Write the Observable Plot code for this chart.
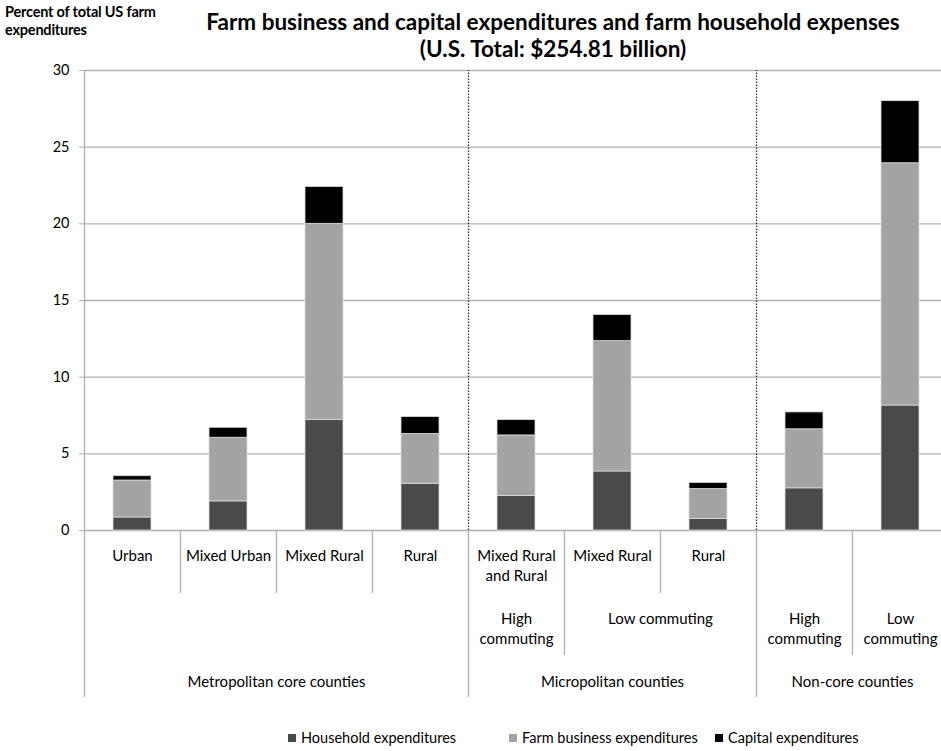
<!DOCTYPE html>
<html><head><meta charset="utf-8">
<script src="https://cdn.jsdelivr.net/npm/d3@7"></script>
<script src="https://cdn.jsdelivr.net/npm/@observablehq/plot@0.6"></script>
<style>
body{margin:0;background:#fff;font-family:Lato,"Open Sans",sans-serif;color:#000}
#wrap{position:relative;width:941px;height:751px;overflow:hidden;background:#fff}
#ylab{position:absolute;left:5px;top:3px;font-weight:bold;font-size:14.5px;line-height:18px;z-index:5;letter-spacing:-0.2px}
#title{position:absolute;left:153px;width:800px;top:8px;text-align:center;font-weight:bold;font-size:22.5px;line-height:27px;z-index:5}
#main{position:absolute;left:0;top:0}
#tiers{position:absolute;left:0;top:530px}
#legend{position:absolute;left:0;top:729px;width:941px;height:20px;font-size:14.5px;line-height:18px}
#legend div{position:absolute;top:0;white-space:nowrap}
#legend span.sw{display:inline-block;width:8px;height:8px;margin-right:5px;vertical-align:1px}
svg{display:block}
</style></head><body><div id="wrap">
<div id="main"></div>
<div id="tiers"></div>
<div id="ylab">Percent of total US farm<br>expenditures</div>
<div id="title">Farm business and capital expenditures and farm household expenses<br>(U.S. Total: $254.81 billion)</div>
<div id="legend"></div>
</div>
<script>
const categories = ["Urban","Mixed Urban","Mixed Rural","Rural","Mixed Rural\nand Rural","Mixed Rural","Rural","",""];
const household    = [0.85, 1.9, 7.2, 3.05, 2.25, 3.85, 0.75, 2.75, 8.15];
const farmBusiness = [2.41, 4.15, 12.8, 3.25, 3.95, 8.5, 1.95, 3.85, 15.8];
const capital      = [0.28, 0.65, 2.4, 1.1, 1.0, 1.7, 0.4, 1.1, 4.05];
const seriesNames  = ["Household expenditures","Farm business expenditures","Capital expenditures"];
const seriesColors = ["#4a4a4a","#a3a3a3","#000000"];
const commuting = [
  {label:"High\ncommuting", start:4, end:5},
  {label:"Low commuting", start:5, end:7},
  {label:"High\ncommuting", start:7, end:8},
  {label:"Low\ncommuting", start:8, end:9}
];
const groups = [
  {label:"Metropolitan core counties", start:0, end:4},
  {label:"Micropolitan counties", start:4, end:7},
  {label:"Non-core counties", start:7, end:9}
];
const yTicks = [0,5,10,15,20,25,30];

const seriesValues = [household, farmBusiness, capital];
const rows = [];
categories.forEach((c, i) => seriesValues.forEach((arr, k) => rows.push({i, series: seriesNames[k], value: arr[i]})));

const xScale = {type:"linear", domain:[0, categories.length], range:[84, 948]};
const font = {fontFamily:"Lato, 'Open Sans', sans-serif", fontSize:"15px", color:"#000", background:"transparent", overflow:"visible"};
const gridColor = "#b0b0b0";

const main = Plot.plot({
  width: 941, height: 531,
  marginTop: 70, marginBottom: 1, marginLeft: 84, marginRight: 0,
  style: font,
  x: {...xScale, axis: null},
  y: {domain:[0,30], range:[530,70]},
  color: {domain: seriesNames, range: seriesColors},
  marks: [
    Plot.ruleY(yTicks, {y: d => d, stroke: gridColor, strokeWidth: 1.3}),
    Plot.ruleX(groups.slice(1), {x: "start", y1: 0, y2: 30, stroke: "#333", strokeDasharray: "1.5,1.5", strokeWidth: 1.3}),
    Plot.rectY(rows, {x1: d => d.i, x2: d => d.i + 1, y: "value", fill: "series", order: seriesNames,
      insetLeft: 29, insetRight: 29, stroke: "#dcdcdc", strokeWidth: 0.8}),
    Plot.ruleX([0], {stroke: gridColor, strokeWidth: 1.3}),
    Plot.axisY({ticks: yTicks, tickSize: 5, tickPadding: 10, tickFormat: d3.format("d"), stroke: gridColor, label: null, fontSize: 14.5})
  ]
});
document.getElementById("main").appendChild(main);

// tiered category axis
const groupBounds = new Set(groups.flatMap(g => [g.start, g.end]));
const commBounds = new Set(commuting.flatMap(g => [g.start, g.end]));
const boundaries = d3.range(0, categories.length + 1).map(b => ({b, depth: groupBounds.has(b) ? 3 : commBounds.has(b) ? 2 : 1}));

const tiers = Plot.plot({
  width: 941, height: 170,
  marginTop: 0, marginBottom: 0, marginLeft: 84, marginRight: 0,
  style: font,
  x: {...xScale, axis: null},
  y: {type: "linear", domain: [0,1,2,3], range: [0,63,125,167], axis: null},
  marks: [
    Plot.ruleX(boundaries, {x: "b", y1: 0, y2: "depth", stroke: gridColor, strokeWidth: 1.3}),
    Plot.text(categories, {x: (d, i) => i + 0.5, y: () => 0, text: d => d, lineAnchor: "top", dy: 16, lineHeight: 1.35, fontSize: 15}),
    Plot.text(commuting, {x: d => (d.start + d.end) / 2, y: () => 1, text: "label", lineAnchor: "top", dy: 16, lineHeight: 1.35, fontSize: 15}),
    Plot.text(groups, {x: d => (d.start + d.end) / 2, y: () => 2, text: "label", lineAnchor: "top", dy: 17, lineHeight: 1.35, fontSize: 15})
  ]
});
document.getElementById("tiers").appendChild(tiers);

// legend
const legendX = [288, 509, 715];
const legend = document.getElementById("legend");
seriesNames.forEach((name, k) => {
  const item = document.createElement("div");
  item.style.left = legendX[k] + "px";
  const sw = document.createElement("span");
  sw.className = "sw"; sw.style.background = seriesColors[k];
  item.appendChild(sw);
  item.appendChild(document.createTextNode(name));
  legend.appendChild(item);
});
</script>
</body></html>
